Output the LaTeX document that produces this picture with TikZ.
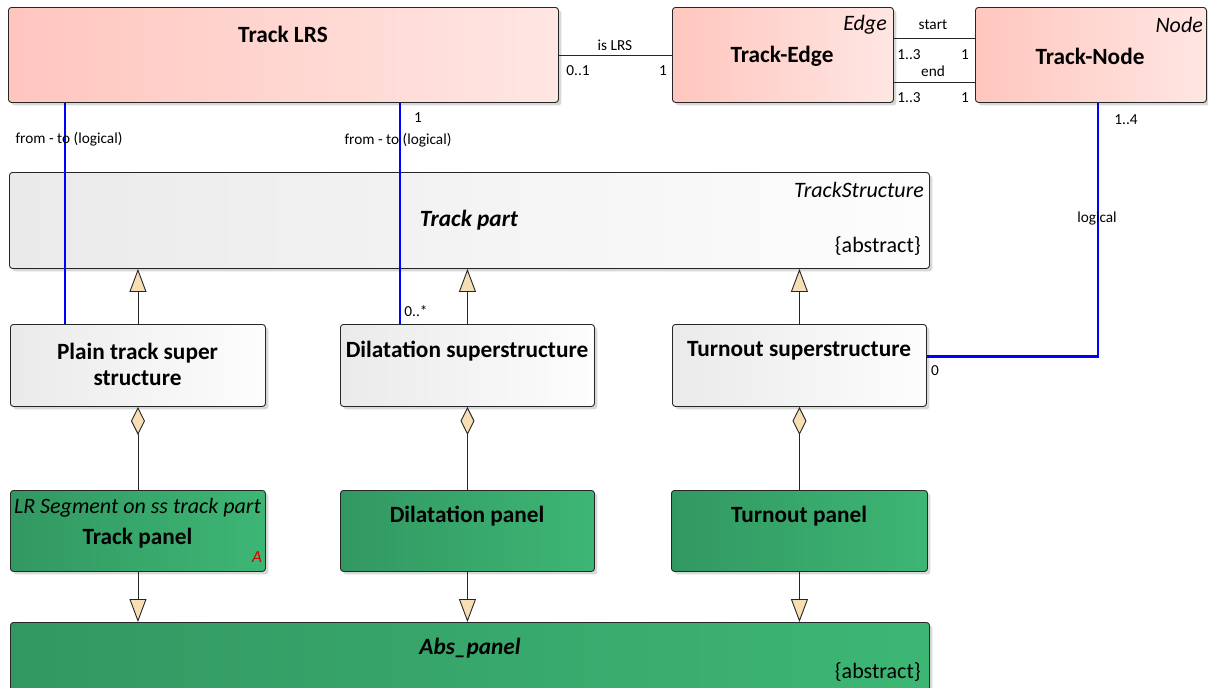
\documentclass[tikz,border=0pt]{standalone}
\usepackage{fontspec}
\setmainfont{Carlito}
\usetikzlibrary{arrows.meta,shadows}
\definecolor{pinkL}{RGB}{255,198,190}
\definecolor{pinkR}{RGB}{255,230,227}
\definecolor{grayL}{RGB}{234,234,234}
\definecolor{grayR}{RGB}{253,253,253}
\definecolor{greenL}{RGB}{50,152,98}
\definecolor{greenR}{RGB}{61,182,116}
\definecolor{tipc}{RGB}{247,222,180}
\definecolor{lblue}{RGB}{0,0,255}
\tikzset{
  box/.style={draw=black!85, line width=0.9pt, rounded corners=3pt, anchor=north west, inner sep=0pt,
    drop shadow={shadow xshift=3pt, shadow yshift=-3pt, fill=black!30, opacity=0.5}},
  pinkbox/.style={box, left color=pinkL, right color=pinkR},
  graybox/.style={box, left color=grayL, right color=grayR},
  greenbox/.style={box, left color=greenL, right color=greenR},
  ttl/.style={font=\fontsize{23.3}{27}\selectfont\bfseries, inner sep=0pt, align=center},
  ttli/.style={font=\fontsize{23.3}{27}\selectfont\bfseries\itshape, inner sep=0pt},
  ster/.style={font=\fontsize{22}{26}\selectfont\itshape, inner sep=0pt},
  abst/.style={font=\fontsize{22}{26}\selectfont, inner sep=0pt},
  lbl/.style={font=\fontsize{15.3}{18}\selectfont, inner sep=0pt},
  assoc/.style={draw=black!85, line width=0.9pt},
  blueline/.style={draw=lblue, line width=2.4pt},
  gen/.style={draw=black!85, line width=0.9pt, -{Triangle[length=23pt, width=17pt, fill=tipc, line width=0.9pt]}},
  comp/.style={draw=black!85, line width=0.9pt, -{Diamond[length=28pt, width=14pt, fill=tipc, line width=0.9pt]}},
}
\begin{document}
\begin{tikzpicture}[x=1pt, y=-1pt]
\useasboundingbox (0,0) rectangle (1208,688);
% top row
\node[pinkbox, minimum width=550pt, minimum height=95pt] (lrs) at (8,7) {};
\node[ttl] (lrsT) at (283,34) {Track LRS};
\node[pinkbox, minimum width=221pt, minimum height=95pt] (edge) at (672,7) {};
\node[ster, anchor=east] (edgeS) at (887,25) {Edge};
\node[ttl] (edgeT) at (782,56) {Track-Edge};
\node[pinkbox, minimum width=231pt, minimum height=95pt] (tnode) at (975,7) {};
\node[ster, anchor=east] (tnodeS) at (1203,25) {Node};
\node[ttl] (tnodeT) at (1090,56) {Track-Node};
% track part
\node[graybox, minimum width=920pt, minimum height=96pt] (tp) at (9,172) {};
\node[ster, anchor=east] (tpS) at (924,190) {TrackStructure};
\node[ttli] (tpT) at (469,220) {Track part};
\node[abst, anchor=east] (tpA) at (921,246) {\{abstract\}};
% middle row
\node[graybox, minimum width=255pt, minimum height=82pt] (plain) at (10,324) {};
\node[ttl] (plainT) at (137.5,364) {Plain track super\\[-1pt]structure};
\node[graybox, minimum width=254pt, minimum height=82pt] (dil) at (340,324) {};
\node[ttl] (dilT) at (467,351) {Dilatation superstructure};
\node[graybox, minimum width=254pt, minimum height=82pt] (turn) at (672,324) {};
\node[ttl] (turnT) at (799,351) {Turnout superstructure};
% panels
\node[greenbox, minimum width=255pt, minimum height=81pt] (tpanel) at (10,490) {};
\node[ster] (tpanelS) at (137.5,508) {LR Segment on ss track part};
\node[ttl] (tpanelT) at (137.5,538) {Track panel};
\node[font=\fontsize{17}{19}\selectfont\itshape, text=red!85!black, inner sep=0pt] (tpanelA) at (257,557) {A};
\node[greenbox, minimum width=254pt, minimum height=81pt] (dpanel) at (340,490) {};
\node[ttl] (dpanelT) at (467,516) {Dilatation panel};
\node[greenbox, minimum width=256pt, minimum height=81pt] (upanel) at (671,490) {};
\node[ttl] (upanelT) at (799,516) {Turnout panel};
% abs panel
\node[greenbox, minimum width=919pt, minimum height=72pt] (abs) at (10,622) {};
\node[ttli] (absT) at (470,648) {Abs\_panel};
\node[abst, anchor=east] (absA) at (921,672) {\{abstract\}};
% associations top
\draw[assoc] (lrs.east) -- (edge.west);
\node[lbl] (isl) at (615,45) {is LRS};
\node[lbl] (isl1) at (578,71) {0..1};
\node[lbl] (isl2) at (663,71) {1};
\draw[assoc] ([yshift=16.5pt]edge.east) -- ([yshift=16.5pt]tnode.west);
\node[lbl] (stl) at (933,25) {start};
\node[lbl] (stl1) at (909,55) {1..3};
\node[lbl] (stl2) at (965,55) {1};
\draw[assoc] ([yshift=-27.5pt]edge.east) -- ([yshift=-27.5pt]tnode.west);
\node[lbl] (enl) at (933,71) {end};
\node[lbl] (enl1) at (909,98) {1..3};
\node[lbl] (enl2) at (965,98) {1};
% blue lines
\draw[blueline] (65,0 |- lrs.south) -- (65,0 |- plain.north);
\node[lbl] (ft1) at (69,139) {from - to (logical)};
\draw[blueline] (400,0 |- lrs.south) -- (400,0 |- dil.north);
\node[lbl] (ft2a) at (418,118) {1};
\node[lbl] (ft2) at (398,140) {from - to (logical)};
\node[lbl] (ft2b) at (416,311) {0..*};
\draw[blueline] (1098,0 |- tnode.south) |- ([yshift=9pt]turn.east);
\node[lbl] (lg1) at (1126,120) {1..4};
\node[lbl] (lg) at (1097,219) {logical};
\node[lbl] (lg2) at (935,371) {0};
% generalizations
\draw[gen] (plain.north) -- (plain.north |- tp.south);
\draw[gen] (dil.north) -- (dil.north |- tp.south);
\draw[gen] (turn.north) -- (turn.north |- tp.south);
\draw[gen] (tpanel.south) -- (tpanel.south |- abs.north);
\draw[gen] (dpanel.south) -- (dpanel.south |- abs.north);
\draw[gen] (upanel.south) -- (upanel.south |- abs.north);
% compositions
\draw[comp] (tpanel.north) -- (tpanel.north |- plain.south);
\draw[comp] (dpanel.north) -- (dpanel.north |- dil.south);
\draw[comp] (upanel.north) -- (upanel.north |- turn.south);
\end{tikzpicture}
\end{document}
